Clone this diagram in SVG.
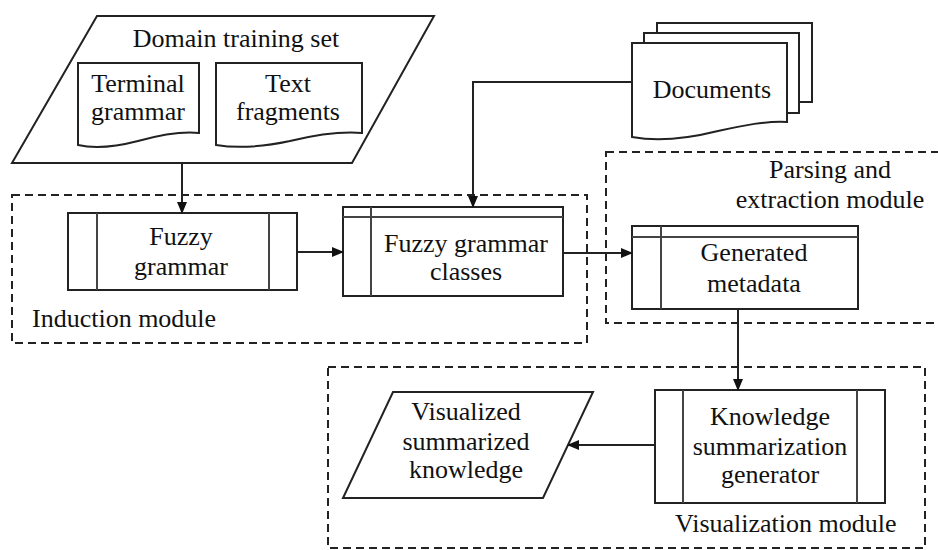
<svg xmlns="http://www.w3.org/2000/svg" width="938" height="550" viewBox="0 0 938 550">
<defs>
<style>
.s{fill:#fff;stroke:#222;stroke-width:2}
.in{fill:none;stroke:#444;stroke-width:2}
.d{fill:none;stroke:#222;stroke-width:2;stroke-dasharray:8,5}
.c{fill:none;stroke:#222;stroke-width:2}
.t text{font-size:26px;fill:#111}
.m{text-anchor:middle}
</style>
<marker id="ah" markerWidth="12" markerHeight="10" refX="11" refY="5" orient="auto" markerUnits="userSpaceOnUse">
<path d="M0,0 L12,5 L0,10 Z" fill="#111"/>
</marker>
</defs>
<rect width="938" height="550" fill="#fff"/>
<g class="t" font-family="'Liberation Serif', 'Times New Roman', serif">

<g id="induction-module">
<rect class="d" x="12" y="195" width="575" height="148"/>
<text x="32" y="327">Induction module</text>
</g>
<g id="parsing-module">
<rect class="d" x="606" y="152" width="345" height="171"/>
<text class="m" x="830" y="178">Parsing and</text>
<text class="m" x="830" y="208">extraction module</text>
</g>
<g id="visualization-module">
<rect class="d" x="328" y="367" width="597" height="181"/>
<text x="675" y="532">Visualization module</text>
</g>

<g id="domain-training-set">
<path class="s" d="M97,16 L434,16 L352,163 L12,163 Z"/>
<text class="m" x="236" y="47">Domain training set</text>
</g>
<g id="terminal-grammar">
<path class="s" d="M78,63 H199 V133 C180,131 160,135 138,141 C115,147 95,149 78,145 Z"/>
<text class="m" x="138" y="92">Terminal</text>
<text class="m" x="138" y="120">grammar</text>
</g>
<g id="text-fragments">
<path class="s" d="M216,63 H362 V133 C338,131 315,135 290,141 C262,147 240,149 216,145 Z"/>
<text class="m" x="288" y="92">Text</text>
<text class="m" x="288" y="120">fragments</text>
</g>

<g id="documents">
<rect class="s" x="657" y="23" width="155" height="79"/>
<rect class="s" x="644" y="33" width="155" height="80"/>
<path class="s" d="M632,43 H787 V122 C765,121 745,125 718,131 C690,138 660,142 632,137 Z"/>
<text class="m" x="712" y="98">Documents</text>
</g>

<g id="fuzzy-grammar">
<rect class="s" x="68" y="213" width="229" height="77"/>
<line class="in" x1="97" y1="213" x2="97" y2="290"/>
<line class="in" x1="269" y1="213" x2="269" y2="290"/>
<text class="m" x="181" y="245">Fuzzy</text>
<text class="m" x="181" y="275">grammar</text>
</g>

<g id="fuzzy-grammar-classes">
<rect class="s" x="343" y="207" width="220" height="89"/>
<line class="in" x1="343" y1="217" x2="563" y2="217"/>
<line class="in" x1="371" y1="207" x2="371" y2="296"/>
<text class="m" x="466" y="252">Fuzzy grammar</text>
<text class="m" x="466" y="280">classes</text>
</g>

<g id="generated-metadata">
<rect class="s" x="632" y="226" width="226" height="83"/>
<line class="in" x1="632" y1="237" x2="858" y2="237"/>
<line class="in" x1="661" y1="226" x2="661" y2="309"/>
<text class="m" x="754" y="261">Generated</text>
<text class="m" x="754" y="292">metadata</text>
</g>

<g id="knowledge-generator">
<rect class="s" x="655" y="390" width="230" height="113"/>
<line class="in" x1="683" y1="390" x2="683" y2="503"/>
<line class="in" x1="857" y1="390" x2="857" y2="503"/>
<text class="m" x="770" y="425">Knowledge</text>
<text class="m" x="770" y="455">summarization</text>
<text class="m" x="770" y="483">generator</text>
</g>

<g id="visualized-knowledge">
<path class="s" d="M393,392 L593,392 L543,498 L343,498 Z"/>
<text class="m" x="466" y="420">Visualized</text>
<text class="m" x="466" y="450">summarized</text>
<text class="m" x="466" y="478">knowledge</text>
</g>

<g id="connectors">
<path class="c" d="M182,163 V213" marker-end="url(#ah)"/>
<path class="c" d="M632,82 H473 V207" marker-end="url(#ah)"/>
<path class="c" d="M297,252 H343" marker-end="url(#ah)"/>
<path class="c" d="M563,253 H632" marker-end="url(#ah)"/>
<path class="c" d="M738,309 V390" marker-end="url(#ah)"/>
<path class="c" d="M655,445 H568" marker-end="url(#ah)"/>
</g>
</g>
</svg>
